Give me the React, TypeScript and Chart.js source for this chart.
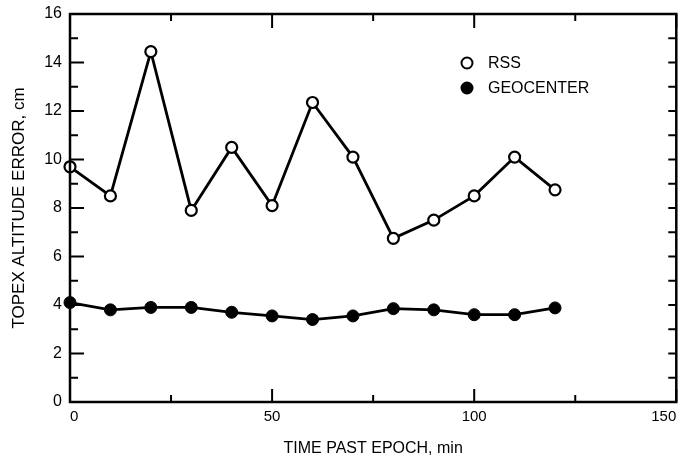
import React, { useEffect, useRef } from "react";
import { Chart, registerables } from "chart.js";

Chart.register(...registerables);

const timeMin = [0, 10, 20, 30, 40, 50, 60, 70, 80, 90, 100, 110, 120];
const rssError = [9.7, 8.5, 14.45, 7.9, 10.5, 8.1, 12.35, 10.1, 6.75, 7.5, 8.5, 10.1, 8.75];
const geocenterError = [4.1, 3.8, 3.9, 3.9, 3.7, 3.55, 3.4, 3.55, 3.85, 3.8, 3.6, 3.6, 3.88];
const seriesNames = ["RSS", "GEOCENTER"];
const xTitle = "TIME PAST EPOCH, min";
const yTitle = "TOPEX ALTITUDE ERROR, cm";

const FONT = "'Liberation Sans', Arial, Helvetica, sans-serif";
const INK = "#000";

const framePlugin = {
  id: "frame",
  afterDraw(chart: any) {
    const { ctx, chartArea: a, scales } = chart;
    const xs = scales.x;
    const ys = scales.y;
    ctx.save();
    ctx.strokeStyle = INK;
    ctx.lineWidth = 2.5;
    ctx.strokeRect(a.left, a.top, a.right - a.left, a.bottom - a.top);
    ctx.lineWidth = 2;
    for (let v = 0; v <= 150; v += 25) {
      const px = xs.getPixelForValue(v);
      const major = v % 50 === 0;
      const lenB = major ? 13 : 7;
      const lenT = major ? 14 : 7;
      ctx.beginPath();
      ctx.moveTo(px, a.bottom);
      ctx.lineTo(px, a.bottom - lenB);
      ctx.moveTo(px, a.top);
      ctx.lineTo(px, a.top + lenT);
      ctx.stroke();
    }
    for (let v = 0; v <= 16; v += 1) {
      const py = ys.getPixelForValue(v);
      const major = v % 2 === 0;
      ctx.beginPath();
      ctx.moveTo(a.left, py);
      ctx.lineTo(a.left + (major ? 14 : 8), py);
      ctx.moveTo(a.right, py);
      ctx.lineTo(a.right - 8, py);
      ctx.stroke();
    }
    const lx = a.left + 397;
    chart.data.datasets.forEach((ds: any, i: number) => {
      const cy = a.top + 49 + i * 25;
      ctx.beginPath();
      ctx.arc(lx, cy, 5.5, 0, Math.PI * 2);
      ctx.fillStyle = ds.pointBackgroundColor;
      ctx.fill();
      ctx.lineWidth = 2;
      ctx.strokeStyle = INK;
      ctx.stroke();
      ctx.fillStyle = INK;
      ctx.font = `16px ${FONT}`;
      ctx.textBaseline = "middle";
      ctx.textAlign = "left";
      ctx.fillText(ds.label, lx + 21, cy + 1);
    });
    ctx.restore();
  },
};

export default function App() {
  const ref = useRef<HTMLCanvasElement>(null);
  useEffect(() => {
    if (!ref.current) return;
    const chart = new Chart(ref.current, {
      type: "line",
      data: {
        datasets: [
          {
            label: seriesNames[0],
            data: timeMin.map((t, i) => ({ x: t, y: rssError[i] })),
            borderColor: INK,
            borderWidth: 2.8,
            pointBackgroundColor: "#ffffff",
            pointBorderColor: INK,
            pointBorderWidth: 2.2,
            pointRadius: 5.5,
            tension: 0,
            clip: false as any,
          },
          {
            label: seriesNames[1],
            data: timeMin.map((t, i) => ({ x: t, y: geocenterError[i] })),
            borderColor: INK,
            borderWidth: 2.8,
            pointBackgroundColor: INK,
            pointBorderColor: INK,
            pointBorderWidth: 1,
            pointRadius: 6,
            tension: 0,
            clip: false as any,
          },
        ],
      },
      options: {
        animation: false,
        responsive: true,
        maintainAspectRatio: false,
        layout: { padding: { top: 14, right: 5, left: 0, bottom: 0 } },
        plugins: { legend: { display: false }, tooltip: { enabled: false } },
        scales: {
          x: {
            type: "linear",
            min: 0,
            max: 150,
            grid: { display: false, drawTicks: false },
            border: { display: false },
            ticks: {
              stepSize: 50,
              padding: 6,
              color: INK,
              align: "inner",
              font: { family: FONT, size: 15 },
              maxRotation: 0,
            },
            title: {
              display: true,
              text: xTitle,
              color: INK,
              font: { family: FONT, size: 16 },
              padding: { top: 0, bottom: 1 },
            },
            afterFit(s: any) {
              s.height = 57;
              s.paddingLeft = 0;
              s.paddingRight = 0;
            },
          },
          y: {
            type: "linear",
            min: 0,
            max: 16,
            grid: { display: false, drawTicks: false },
            border: { display: false },
            ticks: {
              stepSize: 2,
              padding: 8,
              color: INK,
              font: { family: FONT, size: 16 },
            },
            title: {
              display: true,
              text: yTitle,
              color: INK,
              font: { family: FONT, size: 17 },
              padding: { top: 9, bottom: 0 },
            },
            afterFit(s: any) {
              s.width = 70;
              s.paddingTop = 0;
              s.paddingBottom = 0;
            },
          },
        },
      },
      plugins: [framePlugin],
    });
    return () => chart.destroy();
  }, []);
  return (
    <div style={{ position: "fixed", left: 0, top: 0, width: 684, height: 459, background: "#fff" }}>
      <canvas ref={ref} />
    </div>
  );
}
